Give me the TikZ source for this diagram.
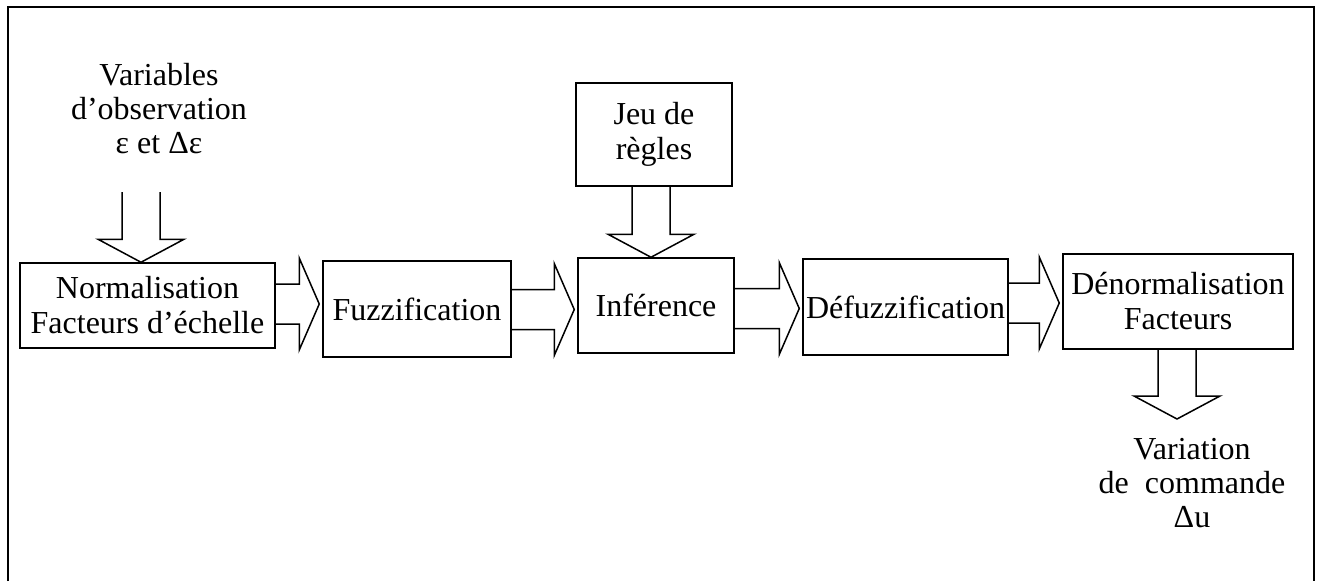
\documentclass[tikz,border=0pt]{standalone}
\usepackage{fontspec}
\setmainfont{Liberation Serif}
\usetikzlibrary{calc}

% fleche bloc horizontale : source, cible, hauteur de l'axe
\newcommand{\flecheh}[3]{%
  \draw[bloc] (#1.east |- 0,#3-20) -- ($(#2.west |- 0,#3)+(-23,-20)$) -- ($(#2.west |- 0,#3)+(-23,-46)$)
    -- ($(#2.west |- 0,#3)+(-3,0)$) -- ($(#2.west |- 0,#3)+(-23,46)$) -- ($(#2.west |- 0,#3)+(-23,20)$)
    -- (#1.east |- 0,#3+20);}
% fleche bloc verticale : depart, arrivee, abscisse de l'axe
\newcommand{\flechev}[3]{%
  \draw[bloc] (#3-19,0 |- #1) -- ($(#3,0 |- #2)+(-19,-23)$) -- ($(#3,0 |- #2)+(-43,-23)$)
    -- (#3,0 |- #2) -- ($(#3,0 |- #2)+(43,-23)$) -- ($(#3,0 |- #2)+(19,-23)$)
    -- (#3+19,0 |- #1);}

\begin{document}
\begin{tikzpicture}[x=1pt, y=-1pt,
    boite/.style={draw, line width=1.5pt, align=center, inner sep=0pt,
      font=\fontsize{32}{35}\selectfont},
    texte/.style={align=center, inner sep=0pt, font=\fontsize{32}{34}\selectfont},
    bloc/.style={draw, line width=1.5pt, line join=miter},
    cadre/.style={draw, line width=2.4pt}]
    \useasboundingbox (0,0) rectangle (1319,581);
    \draw[cadre] (8,581) -- (8,7) -- (1314,7) -- (1314,581);

    % chaine du regulateur flou
    \node[boite, minimum width=255, minimum height=85] (norm) at (147.5,305.5) {Normalisation\\Facteurs d’échelle};
    \node[boite, minimum width=188, minimum height=96] (fuzz) at (417,309) {Fuzzification};
    \node[boite, minimum width=156, minimum height=95] (inf) at (656,305.5) {Inférence};
    \node[boite, minimum width=205, minimum height=96] (defuzz) at (905.5,307) {Défuzzification};
    \node[boite, minimum width=230, minimum height=95] (denorm) at (1178,301.5) {Dénormalisation\\Facteurs};
    \node[boite, minimum width=156, minimum height=103] (regles) at (654,134.5) {Jeu de\\règles};

    % entree et sortie
    \node[texte, anchor=north] (obs) at (159,63) {Variables\\d’observation\\ε et Δε};
    \node[texte, anchor=north] (cmd) at (1192,438) {Variation\\de~ commande\\Δu};
    \coordinate (obsbas) at (141,192);
    \coordinate (cmdhaut) at (1177,419);

    \flechev{obsbas}{norm.north}{141}
    \flecheh{norm}{fuzz}{304}
    \flecheh{fuzz}{inf}{309.5}
    \flechev{regles.south}{inf.north}{651}
    \flecheh{inf}{defuzz}{308.5}
    \flecheh{defuzz}{denorm}{303}
    \flechev{denorm.south}{cmdhaut}{1177}
\end{tikzpicture}
\end{document}
